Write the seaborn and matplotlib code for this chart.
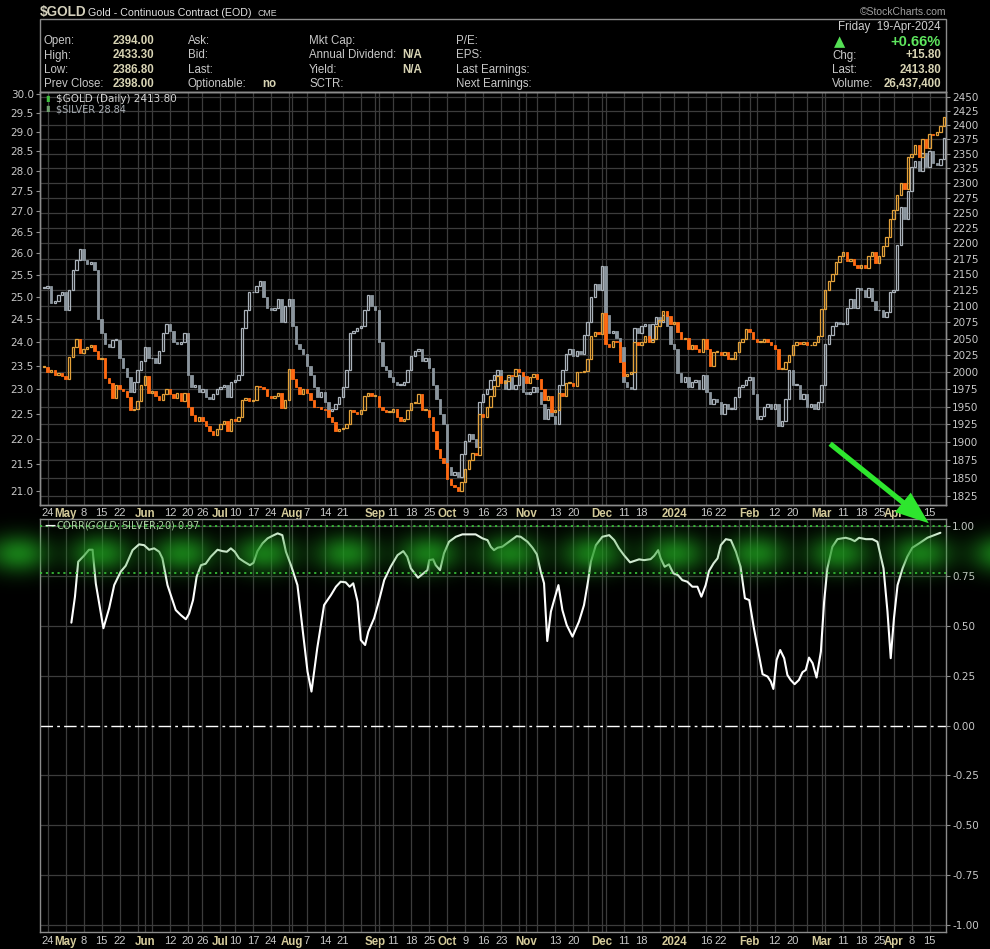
import numpy as np
import pandas as pd
import matplotlib
matplotlib.use("Agg")
import matplotlib.pyplot as plt
import seaborn as sns
from matplotlib.ticker import FixedLocator, NullLocator, NullFormatter
from matplotlib.transforms import blended_transform_factory
from matplotlib.patches import Rectangle, FancyArrowPatch

# ---------------- data ----------------
holidays = ['2023-05-29', '2023-06-19', '2023-07-04', '2023-09-04', '2023-11-23',
            '2023-12-25', '2024-01-01', '2024-01-15', '2024-02-19', '2024-03-29']

gold_close = [
    2008,
    2000, 2004, 1996, 1999, 1995,
    1990, 2023, 2037, 2050, 2028,
    2035, 2038, 2040, 2032, 2020,
    2022, 1992, 1985, 1962, 1982,
    1975, 1972, 1964, 1945, 1946,
    1958, 1982, 1995, 1970,
    1972, 1965, 1960, 1968, 1975,
    1968, 1962, 1970, 1958, 1970,
    1950, 1938, 1930, 1935,
    1930, 1922, 1915, 1910, 1918,
    1925, 1930, 1915, 1932,
    1930, 1935, 1960, 1962, 1958,
    1960, 1980, 1978, 1975, 1965,
    1962, 1965, 1970, 1948, 1960,
    2005, 1990, 1978, 1968, 1975,
    1970, 1960, 1950, 1949, 1946,
    1945, 1935, 1928, 1915, 1918,
    1920, 1925, 1945, 1943, 1940,
    1945, 1965, 1970, 1965, 1966,
    1950, 1945, 1942, 1942,
    1946, 1935, 1930, 1932, 1945,
    1955, 1955, 1969, 1945, 1945,
    1935, 1915, 1890, 1878, 1870,
    1848, 1840, 1838, 1833, 1845,
    1862, 1875, 1885, 1882, 1940,
    1935, 1950, 1965, 1980, 1994,
    1985, 1987, 1996, 1995, 2005,
    2000, 1995, 1985, 1993, 1998,
    1990, 1975, 1960, 1965, 1942,
    1945, 1970, 1965, 1985, 1985,
    1980, 2000, 2000, 2002,
    2020, 2055, 2060, 2057, 2090,
    2042, 2038, 2047, 2045, 2015,
    1995, 1998, 2000, 2045, 2040,
    2045, 2055, 2045, 2050, 2070,
    2078, 2092, 2085, 2072,
    2075, 2060, 2050, 2052,
    2035, 2040, 2035, 2030, 2050,
    2035, 2010, 2030, 2030,
    2025, 2030, 2020, 2020, 2030,
    2045, 2050, 2065, 2060, 2050,
    2045, 2045, 2050, 2045, 2040,
    2035, 2005, 2005, 2015, 2025,
    2040, 2045, 2042, 2045,
    2040, 2040, 2045, 2055, 2095,
    2125, 2140, 2150, 2170, 2180,
    2185, 2172, 2175, 2165, 2160,
    2165, 2160, 2180, 2185, 2168,
    2180, 2195, 2210, 2240,
    2255, 2280, 2300, 2290, 2345,
    2350, 2365, 2345, 2375, 2360,
    2385, 2383, 2388, 2398, 2413.8]

silver_close = [
    25.20,
    25.25, 24.85, 24.90, 25.05, 25.10,
    24.70, 25.15, 25.60, 25.85, 26.10,
    25.85, 25.75, 25.80, 25.60, 24.50,
    24.20, 23.95, 23.90, 24.05, 24.05,
    23.65, 23.45, 23.25, 22.95, 23.15,
    23.40, 23.60, 23.90, 23.65,
    23.65, 23.55, 23.80, 24.20, 24.40,
    24.25, 24.00, 23.95, 24.00, 24.20,
    23.30, 23.05, 23.10, 22.95,
    23.00, 22.85, 22.80, 22.90, 23.00,
    23.05, 23.10, 22.85, 23.15,
    23.20, 23.30, 24.30, 24.70, 25.10,
    25.10, 25.25, 25.35, 25.00, 24.75,
    24.70, 24.75, 24.95, 24.45, 24.80,
    24.95, 24.35, 23.95, 23.85, 23.75,
    23.50, 23.30, 23.05, 22.85, 22.95,
    22.75, 22.55, 22.60, 22.70, 22.85,
    23.05, 23.40, 24.20, 24.25, 24.30,
    24.35, 24.70, 25.05, 24.80, 24.70,
    24.00, 23.50, 23.40, 23.25,
    23.15, 23.10, 23.10, 23.15, 23.40,
    23.70, 23.80, 23.85, 23.60, 23.65,
    23.45, 23.10, 22.80, 22.50, 22.30,
    21.45, 21.30, 21.35, 21.25, 21.70,
    21.95, 22.10, 22.00, 21.85, 22.75,
    22.90, 23.00, 23.20, 23.30, 23.40,
    23.20, 23.00, 23.25, 23.00, 23.10,
    23.30, 22.95, 22.90, 22.95, 23.05,
    22.95, 22.70, 22.40, 22.60, 22.45,
    22.30, 23.10, 23.40, 23.75, 23.85,
    23.70, 23.80, 23.75, 24.15,
    24.45, 25.00, 25.30, 25.15, 25.70,
    24.60, 24.20, 24.25, 24.10, 23.90,
    23.15, 23.05, 23.00, 24.30, 24.20,
    24.35, 24.40, 24.05, 24.40, 24.55,
    24.45, 24.60, 24.35, 23.95,
    23.85, 23.35, 23.15, 23.25,
    23.05, 23.15, 23.20, 23.00, 23.30,
    22.95, 22.70, 22.80, 22.75,
    22.50, 22.70, 22.60, 22.60, 22.85,
    23.05, 23.10, 23.20, 23.25, 22.90,
    22.40, 22.45, 22.65, 22.70, 22.60,
    22.70, 22.25, 22.35, 22.80, 23.40,
    23.10, 23.10, 22.80, 22.90,
    22.65, 22.70, 22.60, 22.75, 23.10,
    23.95, 24.15, 24.35, 24.45, 24.40,
    24.40, 24.75, 24.95, 24.75, 25.20,
    25.15, 25.00, 25.20, 24.90, 24.70,
    24.70, 24.55, 24.65, 25.10,
    25.15, 26.20, 27.10, 26.80, 27.50,
    28.10, 28.25, 28.00, 28.45, 28.10,
    28.50, 28.20, 28.15, 28.30, 28.84]

# correlation: position in trading days from the first session, and value
corr_day = [7.6, 8.6, 9.5, 11.1, 12.5, 13.5, 14.4, 16.5, 18.1, 19.5,
            21.3, 22.7, 24.6, 26.4, 27.8, 29.2, 30.6, 32.0, 32.9, 34.3,
            36.6, 38.0, 39.4, 40.3, 41.4, 42.4, 43.6, 44.9, 46.3, 48.2,
            49.6, 50.8, 51.9, 53.0, 54.2, 55.6, 57.2, 58.2, 59.3, 60.7,
            62.1, 63.5, 64.9, 66.2, 67.2, 68.6, 70.4, 71.8, 73.2, 74.3,
            75.9, 77.8, 79.7, 81.1, 82.4, 83.8, 84.9, 85.9, 87.1, 88.0,
            89.2, 90.1, 91.7, 93.1, 94.5, 96.3, 98.2, 99.8, 100.9, 101.9,
            103.9, 105.4, 106.5, 107.0, 108.1, 108.8, 110.0, 111.1, 112.5, 114.4,
            116.2, 119.9, 121.8, 123.2,
            124.1, 125.0, 126.0, 127.3, 129.2, 131.3, 132.4, 134.3, 135.7, 136.9,
            138.0, 138.9, 139.8, 140.8, 141.7, 142.9, 144.0, 145.2, 146.8, 148.6,
            150.0, 151.1, 151.9, 153.3, 155.1, 157.0, 158.4, 159.7, 161.1, 162.8,
            165.3, 166.7, 168.5, 169.5, 170.6, 171.3, 172.4, 173.6, 174.8, 176.1,
            177.3, 178.7, 180.1, 181.5, 182.6, 183.8, 184.7, 186.0, 187.1, 188.0,
            189.4, 190.8, 192.2, 193.5, 194.7, 195.9, 197.2, 198.6, 199.6, 201.0,
            201.9, 202.6, 203.5, 204.5, 205.6, 206.5, 207.4, 208.5, 209.7, 210.7,
            211.6, 212.5, 213.5, 214.6, 215.8, 216.7, 217.6, 219.0, 220.4, 222.7,
            224.1, 225.2, 226.4, 228.3, 230.1, 231.5, 233.2, 234.3, 235.2, 236.1,
            237.1, 238.5, 239.8, 241.2, 243.1, 245.4, 247.3, 249.0]
corr_val = [0.515, 0.645, 0.82, 0.85, 0.88, 0.88, 0.71, 0.487, 0.587, 0.703,
            0.77, 0.80, 0.878, 0.907, 0.903, 0.88, 0.887, 0.87, 0.837, 0.703,
            0.578, 0.553, 0.532, 0.56, 0.628, 0.745, 0.803, 0.81, 0.845, 0.88,
            0.873, 0.87, 0.887, 0.87, 0.837, 0.82, 0.803, 0.815, 0.873, 0.912,
            0.937, 0.95, 0.962, 0.953, 0.87, 0.803, 0.703, 0.487, 0.27, 0.17,
            0.387, 0.603, 0.653, 0.695, 0.72, 0.717, 0.695, 0.712, 0.62, 0.428,
            0.403, 0.47, 0.537, 0.628, 0.728, 0.795, 0.853, 0.873, 0.845, 0.787,
            0.74, 0.762, 0.778, 0.828, 0.832, 0.803, 0.778, 0.862, 0.92, 0.945,
            0.957, 0.957, 0.937, 0.928,
            0.895, 0.878, 0.89, 0.895, 0.92, 0.948, 0.945, 0.92, 0.89, 0.857,
            0.77, 0.712, 0.423, 0.57, 0.628, 0.703, 0.578, 0.503, 0.445, 0.52,
            0.603, 0.72, 0.82, 0.903, 0.945, 0.953, 0.928, 0.887, 0.853, 0.817,
            0.832, 0.828, 0.833, 0.85, 0.878, 0.837, 0.795, 0.807, 0.762, 0.753,
            0.728, 0.72, 0.695, 0.695, 0.645, 0.703, 0.773, 0.812, 0.837, 0.903,
            0.933, 0.928, 0.87, 0.795, 0.637, 0.628, 0.487, 0.353, 0.257, 0.245,
            0.22, 0.183, 0.328, 0.378, 0.337, 0.253, 0.228, 0.207, 0.228, 0.267,
            0.278, 0.34, 0.312, 0.24, 0.37, 0.62, 0.787, 0.895, 0.933, 0.94,
            0.933, 0.923, 0.94, 0.933, 0.933, 0.92, 0.787, 0.57, 0.337, 0.537,
            0.703, 0.787, 0.845, 0.89, 0.912, 0.94, 0.953, 0.965]

xtick_dates = ['2023-04-24', '2023-05-01', '2023-05-08', '2023-05-15', '2023-05-22',
               '2023-06-01', '2023-06-12', '2023-06-20', '2023-06-26', '2023-07-03',
               '2023-07-10', '2023-07-17', '2023-07-24', '2023-08-01', '2023-08-07',
               '2023-08-14', '2023-08-21', '2023-09-01', '2023-09-11', '2023-09-18',
               '2023-09-25', '2023-10-02', '2023-10-09', '2023-10-16', '2023-10-23',
               '2023-11-01', '2023-11-13', '2023-11-20', '2023-12-01', '2023-12-11',
               '2023-12-18', '2024-01-02', '2024-01-16', '2024-01-22', '2024-02-01',
               '2024-02-12', '2024-02-20', '2024-03-01', '2024-03-11', '2024-03-18',
               '2024-03-25', '2024-04-01', '2024-04-08', '2024-04-15']
xtick_labels = ['24', 'May', '8', '15', '22', 'Jun', '12', '20', '26', 'Jul',
                '10', '17', '24', 'Aug', '7', '14', '21', 'Sep', '11', '18',
                '25', 'Oct', '9', '16', '23', 'Nov', '13', '20', 'Dec', '11',
                '18', '2024', '16', '22', 'Feb', '12', '20', 'Mar', '11', '18',
                '25', 'Apr', '8', '15']

silver_ticks = [21.0, 21.5, 22.0, 22.5, 23.0, 23.5, 24.0, 24.5, 25.0, 25.5,
                26.0, 26.5, 27.0, 27.5, 28.0, 28.5, 29.0, 29.5, 30.0]
gold_ticks = list(range(1825, 2451, 25))
corr_ticks = [-1.0, -0.75, -0.5, -0.25, 0.0, 0.25, 0.5, 0.75, 1.0]

# ---------------- setup ----------------
sns.set_theme(style="dark")
plt.rcParams['font.family'] = ['DejaVu Sans']
plt.rcParams['axes.facecolor'] = 'black'
plt.rcParams['figure.facecolor'] = 'black'

dates = pd.bdate_range('2023-04-21', '2024-04-19')
dates = dates[~dates.isin(pd.to_datetime(holidays))]
n = min(len(dates), len(gold_close), len(silver_close))
dates = dates[:n]
idx = np.arange(n)
gold = np.asarray(gold_close[:n], float)
silver = np.asarray(silver_close[:n], float)

W, H = 990, 949
fig = plt.figure(figsize=(W / 100, H / 100), dpi=100, facecolor='black')


def T(x, y, s, **kw):
    kw.setdefault('va', 'center')
    return fig.text(x / W, 1 - y / H, s, **kw)


GRID = '#3c3c3c'
SPINE = '#8c8c8c'
LAB = '#c8c8c8'
VAL = '#d8d4b4'
XL, XR = 40, 946
X0, DX = 44.0, 3.6
xlim = ((XL - X0) / DX, (XR - X0) / DX)
HF = ['Liberation Sans', 'DejaVu Sans']
NF = ['Liberation Sans Narrow', 'Liberation Sans', 'DejaVu Sans']

ax_s = fig.add_axes([XL / W, 1 - 505 / H, (XR - XL) / W, (505 - 91.5) / H])
ax_g = ax_s.twinx()
ax_c = fig.add_axes([XL / W, 1 - 932 / H, (XR - XL) / W, (932 - 519) / H])

for ax in (ax_s, ax_g, ax_c):
    ax.set_facecolor('black')
    for sp in ax.spines.values():
        sp.set_color(SPINE)
        sp.set_linewidth(1.0)
ax_g.patch.set_visible(False)

ax_s.set_yscale('log')
ax_g.set_yscale('log')
ax_s.set_xlim(*xlim)
ax_s.set_ylim(20.73, 30.07)
ax_g.set_ylim(1813.5, 2460.5)
ax_c.set_xlim(*xlim)
ax_c.set_ylim(-1.034, 1.034)

# vertical grid: first session of each week and of each month
wk = dates.to_period('W')
mo = dates.to_period('M')
grid_x = [i for i in range(n) if i == 0 or wk[i] != wk[i - 1] or mo[i] != mo[i - 1]]
for gx in grid_x[1:]:
    ax_s.axvline(gx, color=GRID, lw=0.9, zorder=0)
    ax_c.axvline(gx, color=GRID, lw=0.9, zorder=0)

# horizontal grid of the price panel at the gold ticks
tr = blended_transform_factory(ax_s.transAxes, ax_g.transData)
for v in gold_ticks:
    ax_s.plot([0, 1], [v, v], transform=tr, color=GRID, lw=0.9, zorder=0)
for v in corr_ticks:
    if v != 0:
        ax_c.axhline(v, color=GRID, lw=0.9, zorder=0)
ax_c.axhline(0, color='white', lw=1.0, ls=(0, (9, 3, 2, 3)), zorder=1)


def candles(ax, close, up_col, dn_col):
    c = close
    o = np.r_[c[0], c[:-1]]
    up = c >= o
    bottom = np.minimum(o, c)
    height = np.maximum(np.abs(c - o), c * 0.0006)
    ax.bar(idx[up], height[up], bottom=bottom[up], width=0.62,
           facecolor='none', edgecolor=up_col, linewidth=0.9, zorder=3)
    ax.bar(idx[~up], height[~up], bottom=bottom[~up], width=0.62,
           facecolor=dn_col, edgecolor=dn_col, linewidth=0.6, zorder=3)


candles(ax_s, silver, '#aab2ba', '#8b959d')
candles(ax_g, gold, '#e3a13a', '#ff6a12')
ax_s.set_ylim(20.73, 30.07)
ax_g.set_ylim(1813.5, 2460.5)
ax_s.set_xlim(*xlim)

# y ticks
ax_s.yaxis.set_major_locator(FixedLocator(silver_ticks))
ax_s.set_yticklabels([f'{v:.1f}' for v in silver_ticks])
ax_s.yaxis.set_minor_locator(NullLocator())
ax_s.yaxis.set_minor_formatter(NullFormatter())
ax_g.yaxis.set_major_locator(FixedLocator(gold_ticks))
ax_g.set_yticklabels([str(v) for v in gold_ticks])
ax_g.yaxis.set_minor_locator(NullLocator())
ax_g.yaxis.set_minor_formatter(NullFormatter())
for ax in (ax_s, ax_g):
    ax.tick_params(axis='y', which='major', length=3, width=0.8, color='#909090',
                   labelcolor=LAB, labelsize=7.5, pad=1.5)

ax_c.yaxis.tick_right()
ax_c.yaxis.set_major_locator(FixedLocator(corr_ticks))
ax_c.set_yticklabels([f'{v:.2f}' for v in corr_ticks])
ax_c.tick_params(axis='y', length=3, width=0.8, color='#909090', labelcolor=LAB,
                 labelsize=7.5, pad=1.5, left=False, right=True)

# x ticks (both panels), labels centred on their session
tick_idx = [int(dates.get_loc(pd.Timestamp(d))) for d in xtick_dates]
months = {'May', 'Jun', 'Jul', 'Aug', 'Sep', 'Oct', 'Nov', 'Dec', '2024', 'Feb', 'Mar', 'Apr'}
for ax, pad in ((ax_s, 2.0), (ax_c, 3.0)):
    ax.set_xticks(tick_idx)
    ax.set_xticklabels(xtick_labels)
    ax.xaxis.set_minor_locator(FixedLocator(idx))
    ax.tick_params(axis='x', which='major', length=0, pad=pad, labelsize=8, labelcolor=LAB)
    ax.tick_params(axis='x', which='minor', length=2, width=0.6, color='#777777', direction='in')
    for lab in ax.get_xticklabels():
        lab.set_ha('center')
        lab.set_fontfamily(NF)
        if lab.get_text() in months:
            lab.set_fontweight('bold')
            lab.set_color('#d6cc9c')
            lab.set_fontsize(8.3)

# correlation line with seaborn
corr_df = pd.DataFrame({'day': corr_day, 'corr': corr_val})
sns.lineplot(data=corr_df, x='day', y='corr', ax=ax_c, color='white', linewidth=1.5,
             sort=False, estimator=None, legend=False, zorder=4)
ax_c.set_xlabel('')
ax_c.set_ylabel('')
ax_c.set_xlim(*xlim)
ax_c.set_ylim(-1.034, 1.034)

# green dotted band lines
for v in (0.997, 0.762):
    ax_c.axhline(v, color='#3fcf3f', lw=1.2, ls=(0, (1.3, 2.2)), zorder=5)

# ---------------- header ----------------
fig.add_artist(Rectangle((XL / W, 1 - 91.5 / H), (XR - XL) / W, (91.5 - 19) / H,
                         transform=fig.transFigure, fill=False, edgecolor=SPINE, lw=1.0))
FS = 8.3
T(40, 12, '$GOLD', color='#d4d0bc', fontsize=9.8, fontweight='bold', family=HF)
T(88, 12.5, 'Gold - Continuous Contract (EOD)', color='#e2e2e2', fontsize=7.7, family=HF)
T(257, 13, 'CME', color='#d0d0d0', fontsize=6.3, family=HF)
T(946, 12, '\u00a9StockCharts.com', color='#a0a0a0', fontsize=7.5, ha='right', family=HF)

rows = [41, 55.5, 70, 84.3]
for y, lab, val in zip(rows, ['Open:', 'High:', 'Low:', 'Prev Close:'],
                       ['2394.00', '2433.30', '2386.80', '2398.00']):
    T(44, y, lab, color=LAB, fontsize=FS, family=HF)
    T(154, y, val, color=VAL, fontsize=FS, fontweight='bold', ha='right', family=HF)
for y, lab in zip(rows, ['Ask:', 'Bid:', 'Last:', 'Optionable:']):
    T(188, y, lab, color=LAB, fontsize=FS, family=HF)
T(262, rows[3], 'no', color=VAL, fontsize=FS, fontweight='bold', family=HF)
for y, lab in zip(rows, ['Mkt Cap:', 'Annual Dividend:', 'Yield:', 'SCTR:']):
    T(309, y, lab, color=LAB, fontsize=FS, family=HF)
for y in rows[1:3]:
    T(422, y, 'N/A', color=VAL, fontsize=FS, fontweight='bold', ha='right', family=HF)
for y, lab in zip(rows, ['P/E:', 'EPS:', 'Last Earnings:', 'Next Earnings:']):
    T(456, y, lab, color=LAB, fontsize=FS, family=HF)

T(941, 27, 'Friday  19-Apr-2024', color='#d0d0d0', fontsize=FS, ha='right', family=HF)
T(840, 42, '\u25b2', color='#55e055', fontsize=10.5, ha='center', family=['DejaVu Sans'])
T(941, 42, '+0.66%', color='#5ee65e', fontsize=10.5, fontweight='bold', ha='right', family=HF)
for y, lab, val in zip(rows[1:], ['Chg:', 'Last:', 'Volume:'], ['+15.80', '2413.80', '26,437,400']):
    T(832, y, lab, color=LAB, fontsize=FS, family=HF)
    T(941, y, val, color=VAL, fontsize=FS, fontweight='bold', ha='right', family=HF)

# panel legends
T(45, 98, '\u25ae', color='#3fbf3f', fontsize=6)
T(56, 98.5, '$GOLD (Daily) 2413.80', color='#d4d4d4', fontsize=7.5)
T(45, 109, '\u25ae', color='#6f9f6f', fontsize=6)
T(56, 109.5, '$SILVER 28.84', color='#a8aeb4', fontsize=7)
T(44, 526, '\u2014', color='white', fontsize=8, fontweight='bold')
T(56, 526, 'CORR($GOLD;$SILVER;20) 0.97', color='#b4d4aa', fontsize=7)

# ---------------- green glow band ----------------
g_top, g_bot = 500, 612
ax_glow = fig.add_axes([0, 1 - g_bot / H, 1, (g_bot - g_top) / H])
ax_glow.set_zorder(5)
ax_glow.axis('off')
ax_glow.patch.set_visible(False)
yy, xx = np.mgrid[g_top:g_bot, 0:W]
vert = np.exp(-((yy - 553.0) / 19.0) ** 2)
horiz = 0.3 + 0.7 * (0.5 + 0.5 * np.cos(2 * np.pi * (xx - 18) / 82.0))
alpha = 0.8 * vert * horiz
rgba = np.zeros((g_bot - g_top, W, 4))
rgba[..., 0] = 0.12
rgba[..., 1] = 0.60
rgba[..., 2] = 0.12
rgba[..., 3] = alpha
ax_glow.imshow(rgba, extent=[0, W, g_bot, g_top], aspect='auto', interpolation='bilinear')
ax_glow.set_xlim(0, W)
ax_glow.set_ylim(g_bot, g_top)

# ---------------- green arrow ----------------
arrow = FancyArrowPatch((828 / W, 1 - 442 / H), (931 / W, 1 - 525 / H),
                        transform=fig.transFigure,
                        arrowstyle='simple,tail_width=0.38,head_width=1.8,head_length=2.4',
                        mutation_scale=10, color='#2ee62e', lw=0)
arrow.set_zorder(10)
fig.add_artist(arrow)

fig.savefig('out.png', dpi=100, facecolor='black')
